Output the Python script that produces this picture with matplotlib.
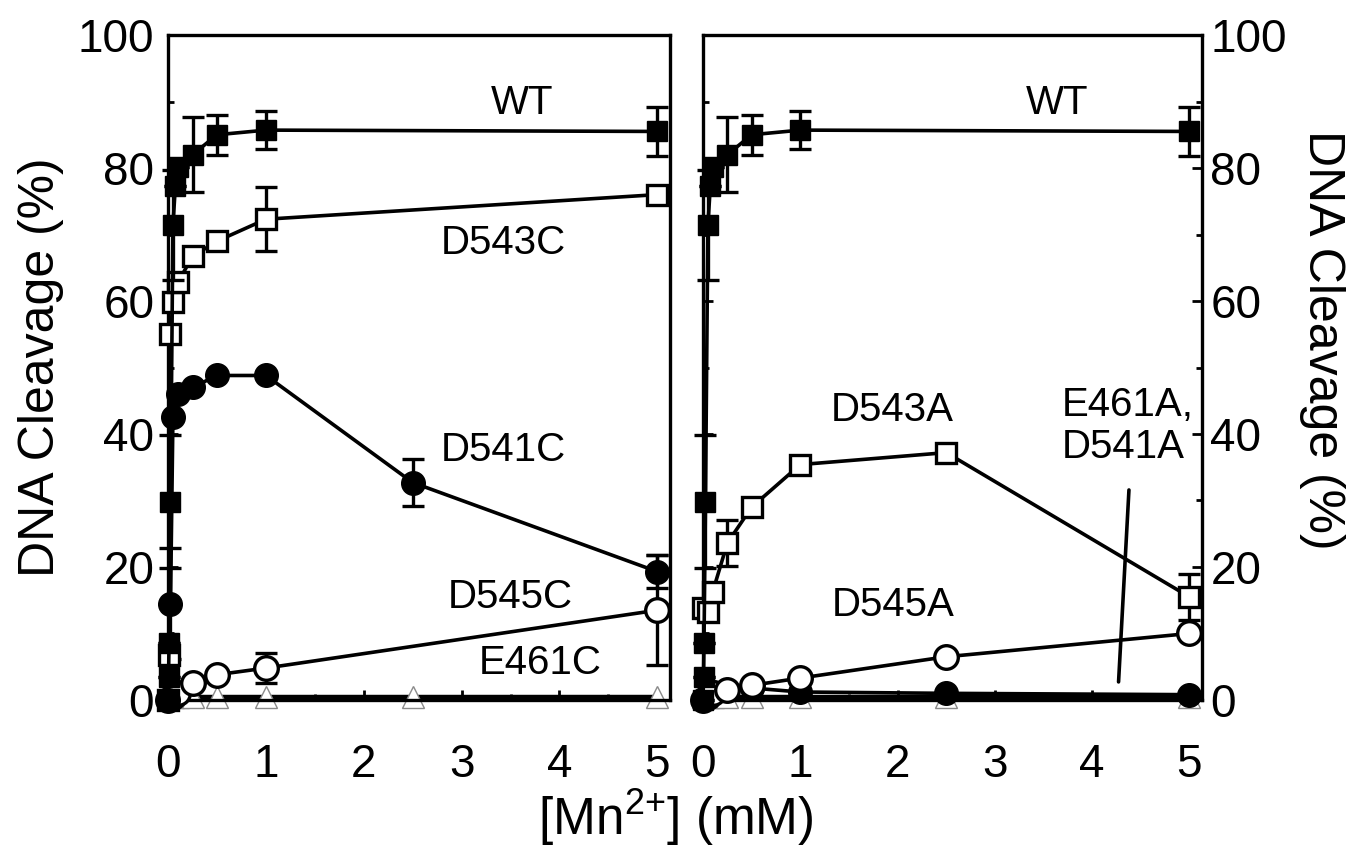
import matplotlib
matplotlib.use('Agg')
import matplotlib.pyplot as plt
from matplotlib.ticker import MultipleLocator

plt.rcParams['font.family'] = ['Liberation Sans', 'DejaVu Sans']
plt.rcParams['mathtext.fontset'] = 'custom'
plt.rcParams['mathtext.rm'] = 'Liberation Sans'

# ---- data ----
# WT (same in both panels)
x_wt = [0, 0.005, 0.01, 0.025, 0.05, 0.075, 0.1, 0.25, 0.5, 1, 5]
wt = [0, 3.5, 8.6, 29.8, 71.4, 77.3, 80.2, 82.0, 85.0, 85.7, 85.5]
wt_err = [0, 0, 0, 10, 8.3, 0, 0, 5.6, 3, 2.9, 3.7]

# left panel: Cys mutants
x_d543c = [0, 0.01, 0.025, 0.05, 0.1, 0.25, 0.5, 1, 5]
d543c = [0, 6.8, 55.0, 59.8, 62.8, 66.7, 69.0, 72.3, 76.0]
d543c_err = [0, 0, 0, 0, 0, 0, 0, 4.8, 0]

x_d541c = [0, 0.025, 0.05, 0.1, 0.25, 0.5, 1, 2.5, 5]
d541c = [0, 14.5, 42.6, 46.0, 47.0, 48.8, 48.8, 32.7, 19.3]
d541c_err = [0, 8.4, 0, 0, 0, 0, 0, 3.5, 2.5]

x_d545c = [0, 0.05, 0.1, 0.25, 0.5, 1, 5]
d545c = [0, 0.5, 1.0, 2.5, 3.8, 4.8, 13.5]
d545c_err = [0, 0, 0, 0, 0, 2.3, 8.3]

x_e461c = [0, 0.05, 0.1, 0.25, 0.5, 1, 2.5, 5]
e461c = [0.4, 0.4, 0.4, 0.4, 0.4, 0.4, 0.4, 0.4]

# right panel: Ala mutants
x_ala = [0, 0.05, 0.1, 0.25, 0.5, 1, 2.5, 5]
d543a = [13.8, 13.3, 16.3, 23.6, 29.0, 35.4, 37.2, 15.5]
d543a_err = [0, 0, 0, 3.5, 0, 0, 0, 3.5]
d545a = [0, 0.5, 1.0, 1.5, 2.2, 3.3, 6.5, 10.0]
d541a = [0, 0.8, 1.2, 1.5, 1.8, 1.2, 1.0, 0.8]
e461a = [0.4, 0.4, 0.4, 0.4, 0.4, 0.4, 0.4, 0.4]

fig = plt.figure(figsize=(13.52, 8.46), dpi=100)
ax1 = fig.add_axes([0.1243, 0.1726, 0.3713, 0.786])
ax2 = fig.add_axes([0.5200, 0.1726, 0.3691, 0.786])

lw = 2.6
tri = dict(marker='^', ms=16, mfc='white', mec='#8a8a8a', mew=1.0, color='black', lw=3.2, clip_on=False)
fsq = dict(marker='s', ms=15, mfc='black', mec='black', color='black', lw=lw, clip_on=False)
osq = dict(marker='s', ms=15, mfc='white', mec='black', mew=2.4, color='black', lw=lw, clip_on=False)
fci = dict(marker='o', ms=17, mfc='black', mec='black', color='black', lw=lw, clip_on=False)
oci = dict(marker='o', ms=17, mfc='white', mec='black', mew=2.4, color='black', lw=lw, clip_on=False)
eb = dict(ecolor='black', elinewidth=2.4, capsize=8, capthick=2.4)


def errline(ax, x, y, err, style, z):
    ax.errorbar(x, y, yerr=err, zorder=z, **eb, **style)


# left panel
ax1.plot(x_e461c, e461c, zorder=2, **tri)
errline(ax1, x_d545c, d545c, d545c_err, oci, 3)
errline(ax1, x_d541c, d541c, d541c_err, fci, 4)
errline(ax1, x_d543c, d543c, d543c_err, osq, 5)
errline(ax1, x_wt, wt, wt_err, fsq, 6)

# right panel
ax2.plot(x_ala, e461a, zorder=2, **tri)
ax2.plot(x_ala, d541a, zorder=3, **fci)
ax2.plot(x_ala, d545a, zorder=4, **oci)
errline(ax2, x_ala, d543a, d543a_err, osq, 5)
errline(ax2, x_wt, wt, wt_err, fsq, 6)

for ax in (ax1, ax2):
    ax.set_xlim(0, 5.13)
    ax.set_ylim(0, 100)
    ax.set_xticks([0, 1, 2, 3, 4, 5])
    ax.set_yticks([0, 20, 40, 60, 80, 100])
    ax.xaxis.set_minor_locator(MultipleLocator(0.5))
    ax.yaxis.set_minor_locator(MultipleLocator(10))
    for s in ax.spines.values():
        s.set_linewidth(2.4)
    ax.tick_params(which='major', direction='in', length=7, width=2, labelsize=33)
    ax.tick_params(which='minor', direction='in', length=4, width=2)
    ax.tick_params(axis='x', which='both', top=False, pad=31)

ax1.tick_params(axis='y', which='both', right=False, pad=10)
ax2.tick_params(axis='y', which='both', left=True, right=True, labelleft=False,
                labelright=True, pad=6)

fs = 29
ax1.text(3.62, 89.8, 'WT', fontsize=fs, ha='center', va='center')
ax1.text(3.43, 68.7, 'D543C', fontsize=fs, ha='center', va='center')
ax1.text(3.43, 37.6, 'D541C', fontsize=fs, ha='center', va='center')
ax1.text(3.50, 15.5, 'D545C', fontsize=fs, ha='center', va='center')
ax1.text(3.80, 5.6, 'E461C', fontsize=fs, ha='center', va='center')

ax2.text(3.64, 89.8, 'WT', fontsize=fs, ha='center', va='center')
ax2.text(1.95, 43.6, 'D543A', fontsize=fs, ha='center', va='center')
ax2.text(1.95, 14.3, 'D545A', fontsize=fs, ha='center', va='center')
ax2.text(3.69, 41.2, 'E461A,\nD541A', fontsize=fs, ha='left', va='center',
         linespacing=1.15)
ax2.annotate('', xy=(4.27, 2.3), xytext=(4.38, 32),
             arrowprops=dict(arrowstyle='-', lw=2.6, color='black'))

fig.text(0.030, 0.566, 'DNA Cleavage (%)', rotation=90, fontsize=36,
         ha='center', va='center')
fig.text(0.978, 0.598, 'DNA Cleavage (%)', rotation=270, fontsize=36,
         ha='center', va='center')
fig.text(0.500, 0.034, r'[Mn$^{2{+}}$] (mM)', fontsize=37,
         ha='center', va='center')

fig.savefig('out.png', dpi=100)
